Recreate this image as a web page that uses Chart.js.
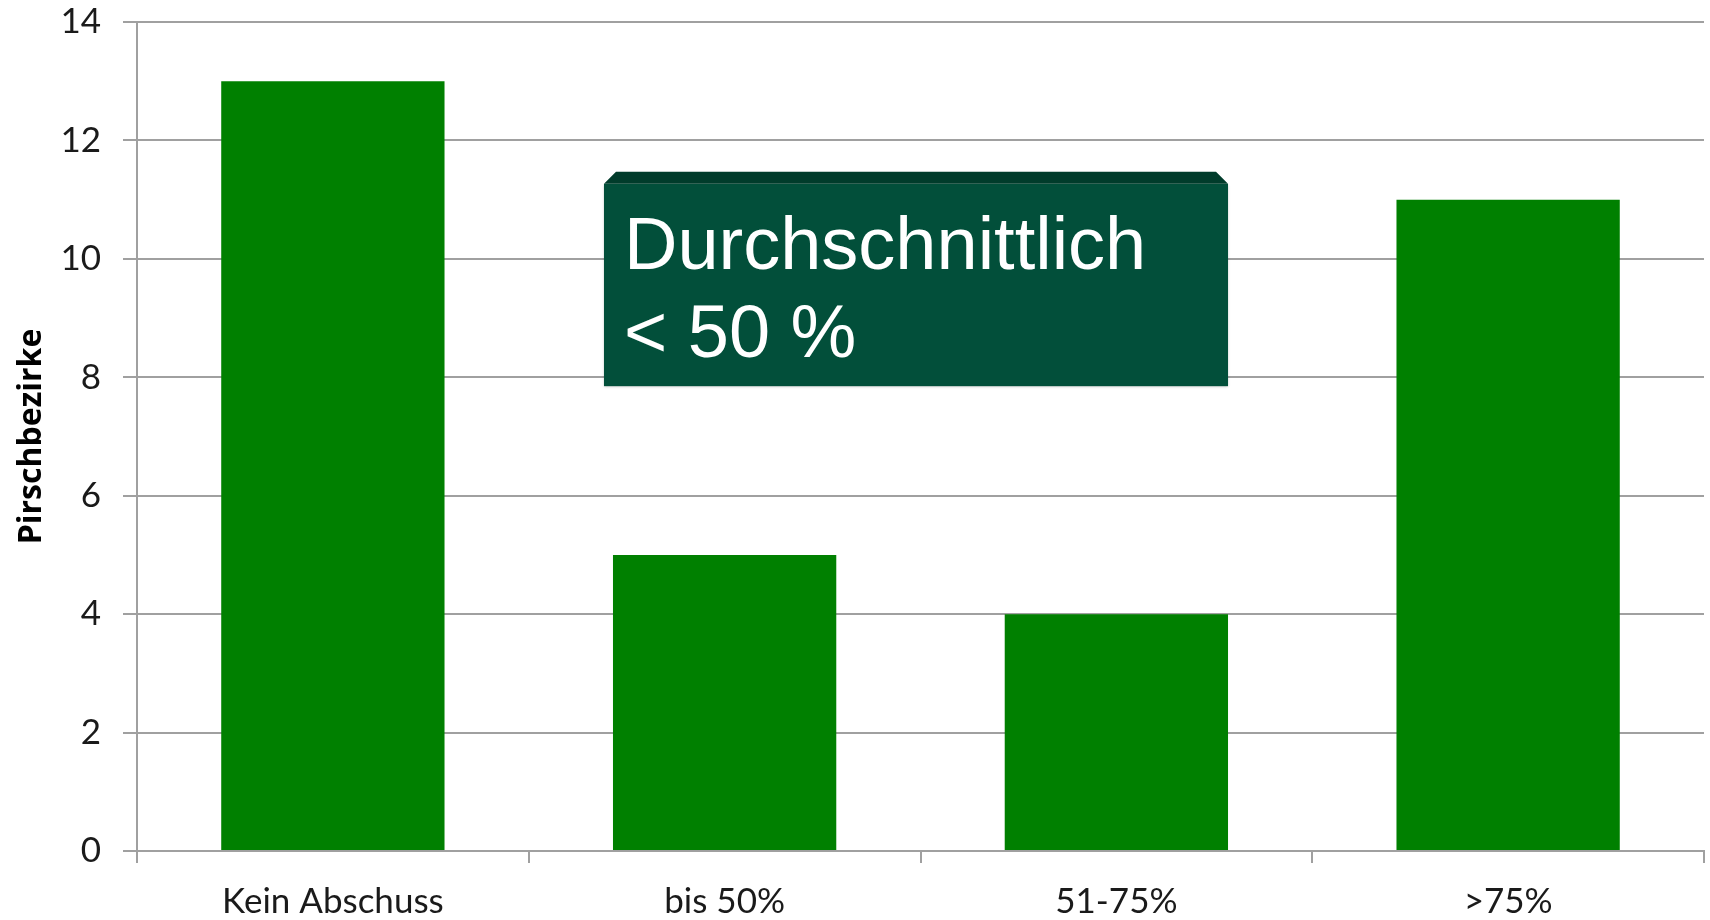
<!DOCTYPE html>
<html>
<head>
<meta charset="utf-8">
<script src="https://cdn.jsdelivr.net/npm/chart.js@4/dist/chart.umd.min.js"></script>
<style>
  html, body { margin: 0; padding: 0; background: #fff; }
  #wrap { width: 1710px; height: 920px; }
</style>
</head>
<body>
<div id="wrap"><canvas id="chart" width="1710" height="920"></canvas></div>
<script>
const categories = ['Kein Abschuss', 'bis 50%', '51-75%', '>75%'];
const bezirke = [13, 5, 4, 11];
const yTicks = [0, 2, 4, 6, 8, 10, 12, 14];
const noteLines = ['Durchschnittlich', '< 50 %'];

// callout box between the middle bars, placed through the scales
const noteBox = {
  id: 'noteBox',
  afterDatasetsDraw(chart) {
    const {ctx, scales: {y}} = chart;
    const bars = chart.getDatasetMeta(0).data;
    const left = bars[1].x - bars[1].width / 2 - 9;
    const right = bars[2].x + bars[2].width / 2;
    const top = y.getPixelForValue(11.47);
    const bottom = y.getPixelForValue(7.85);
    const bevel = 12;

    ctx.save();
    ctx.shadowColor = 'rgba(0,0,0,0.25)';
    ctx.shadowBlur = 3;
    ctx.shadowOffsetY = 1;
    ctx.fillStyle = '#024f3a';
    ctx.fillRect(left, top + bevel, right - left, bottom - top - bevel);
    ctx.restore();

    ctx.save();
    ctx.fillStyle = '#013c2b';
    ctx.beginPath();
    ctx.moveTo(left, top + bevel);
    ctx.lineTo(left + bevel, top);
    ctx.lineTo(right - bevel, top);
    ctx.lineTo(right, top + bevel);
    ctx.closePath();
    ctx.fill();

    ctx.fillStyle = '#ffffff';
    ctx.font = '74px "Liberation Sans", Arial, sans-serif';
    ctx.textBaseline = 'alphabetic';
    ctx.textAlign = 'left';
    ctx.fillText(noteLines[0], left + 20, top + 97);
    ctx.fillText(noteLines[1], left + 20, top + 185);
    ctx.restore();
  }
};

const ctx = document.getElementById('chart').getContext('2d');
new Chart(ctx, {
  type: 'bar',
  data: {
    labels: categories,
    datasets: [{
      data: bezirke,
      backgroundColor: '#008000',
      borderWidth: 0,
      barPercentage: 0.57,
      categoryPercentage: 1
    }]
  },
  options: {
    responsive: false,
    animation: false,
    layout: {padding: {top: 22, right: 6, left: 0, bottom: 0}},
    plugins: {legend: {display: false}, tooltip: {enabled: false}},
    scales: {
      x: {
        grid: {
          offset: true,
          drawOnChartArea: false,
          color: '#a0a0a0',
          lineWidth: 2,
          tickLength: 12
        },
        border: {color: '#a0a0a0', width: 2},
        ticks: {
          color: '#1a1a1a',
          font: {family: 'Lato, "Open Sans", sans-serif', size: 35},
          padding: 18,
          maxRotation: 0
        },
        afterFit(scale) { scale.height = 69; }
      },
      y: {
        min: 0,
        max: 14,
        afterBuildTicks(scale) { scale.ticks = yTicks.map(v => ({value: v})); },
        grid: {color: '#a0a0a0', lineWidth: 2, tickLength: 14},
        border: {color: '#a0a0a0', width: 2},
        ticks: {
          color: '#1a1a1a',
          font: {family: 'Lato, "Open Sans", sans-serif', size: 35},
          padding: 22
        },
        title: {
          display: true,
          text: 'Pirschbezirke',
          color: '#000',
          font: {family: '"Open Sans", "DejaVu Sans", sans-serif', size: 32, weight: 'bold'},
          padding: {top: 13, bottom: 0}
        },
        afterFit(scale) {
          scale.width = 137;
          scale.paddingTop = 0;
          scale.paddingBottom = 0;
        }
      }
    }
  },
  plugins: [noteBox]
});
</script>
</body>
</html>
